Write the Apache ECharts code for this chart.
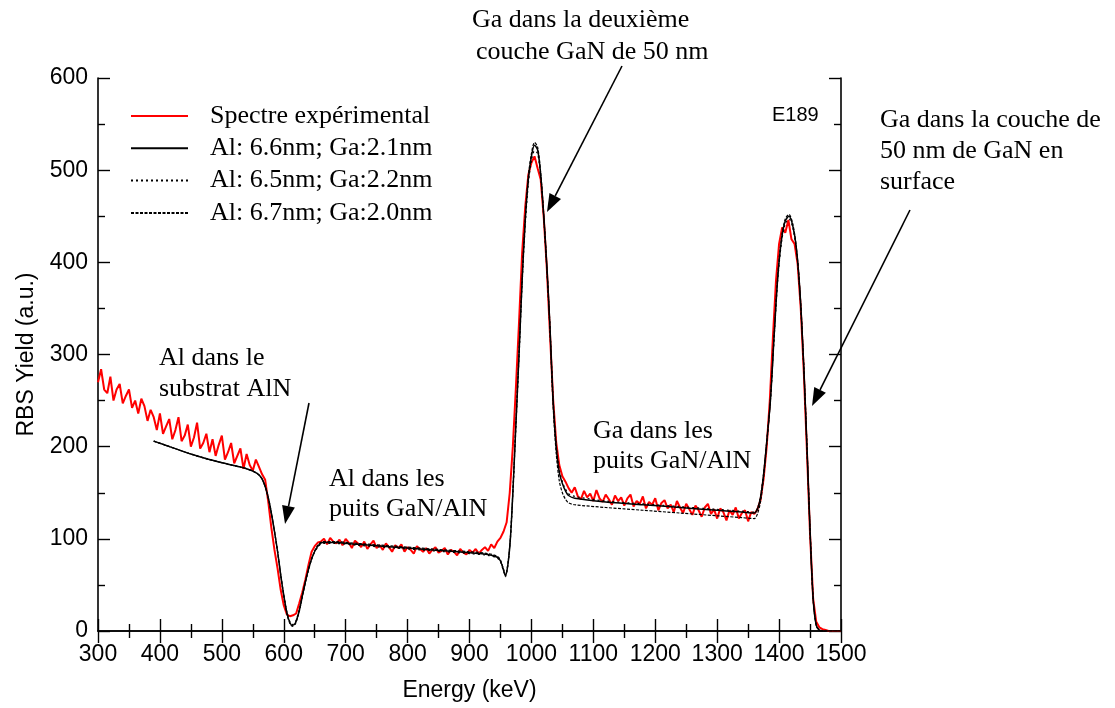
<!DOCTYPE html>
<html>
<head>
<meta charset="utf-8">
<script src="https://cdn.jsdelivr.net/npm/echarts@6/dist/echarts.min.js"></script>
<style>
html,body{margin:0;padding:0;background:#fff;}
#chart{width:1115px;height:708px;}
</style>
</head>
<body>
<div id="chart"></div>
<script>
// ---- Data ----
const legendNames = ['Spectre expérimental', 'Al: 6.6nm; Ga:2.1nm', 'Al: 6.5nm; Ga:2.2nm', 'Al: 6.7nm; Ga:2.0nm'];

const expEnergy = [
300,305,310,315,320,325,330,335,340,345,350,355,360,365,370,375,380,385,390,395,
400,405,410,415,420,425,430,435,440,445,450,455,460,465,470,475,480,485,490,495,
500,505,510,515,520,525,530,535,540,545,550,555,560,565,570,
575,580,585,590,595,600,605,610,615,620,625,630,635,640,645,650,655,
660,665,670,675,680,685,690,695,700,705,710,715,720,725,730,735,740,745,750,755,
760,765,770,775,780,785,790,795,800,805,810,815,820,825,830,835,840,845,850,855,
860,865,870,875,880,885,890,895,900,905,910,915,920,925,930,935,940,945,950,
955,960,965,970,975,980,985,990,995,1000,1005,1010,1015,1020,1025,1030,1035,1040,1045,1050,1055,1060,
1065,1070,1075,1080,1085,1090,1095,1100,1105,1110,1115,1120,1125,1130,1135,1140,1145,1150,1155,1160,
1165,1170,1175,1180,1185,1190,1195,1200,1205,1210,1215,1220,1225,1230,1235,1240,1245,1250,1255,1260,
1265,1270,1275,1280,1285,1290,1295,1300,1305,1310,1315,1320,1325,1330,1335,1340,1345,1350,1355,1360,
1365,1370,1375,1380,1385,1390,1395,1400,1405,1410,1415,1420,1425,1430,1435,1440,1445,1450,1455,1460,
1465,1470,1475,1480,1485,1490,1495,1500
];
const expYield = [
270,284,262,258,276,250,262,268,247,255,262,242,250,236,252,244,228,240,232,218,
236,214,222,230,208,218,232,206,212,224,200,210,226,198,204,214,194,208,190,202,
212,186,194,204,182,190,198,176,192,180,174,186,178,170,164,
140,112,88,68,45,28,18,16,17,19,30,42,56,72,86,92,96,
97,100,94,101,97,95,99,93,100,96,90,98,95,91,97,89,94,98,90,93,
88,95,91,86,93,90,94,86,91,88,84,92,89,86,90,84,88,91,85,87,
90,83,88,86,82,89,85,83,88,85,89,84,88,91,87,94,90,97,101,
108,118,150,200,265,335,410,460,495,508,515,502,490,448,392,322,252,205,180,168,162,155,
150,156,146,143,152,145,149,141,153,144,140,148,143,137,147,141,145,136,144,148,
135,141,138,146,133,140,137,144,131,139,142,133,137,129,141,134,128,138,132,126,
136,131,124,134,138,127,132,122,133,129,120,131,126,134,122,128,131,119,129,127,
132,142,165,200,250,318,380,420,438,432,446,425,420,398,350,280,195,105,35,10,
4,2,1,0,0,0,0,0
];

const fitEnergy = [
390,420,450,480,510,540,557,565,573,580,589,597,605,610,614,619,625,631,638,646,
654,663,680,720,780,840,900,930,945,950,955,958,962,966,970,975,980,985,990,995,
1000,1005,1010,1015,1020,1025,1030,1035,1040,1045,1050,1055,1060,1070,1120,1180,1240,1300,1340,1360,
1365,1370,1375,1380,1386,1392,1398,1404,1410,1416,1422,1428,1434,1440,1445,1450,1455,1460,1465,1470,
1500
];
const fitSolid = [
206,199,192,186,181,176,171,165,150,128,91,52,20,9,6,9,22,41,62,80,
91,96,96,94,91,88,85,83,80,76,66,60,72,100,150,225,300,380,445,490,
515,527,522,495,450,395,330,250,200,172,160,152,147,144,140,137,134,131,129,128,
132,145,170,205,250,320,385,425,445,450,440,415,365,285,200,110,35,6,1,0,
0
];
const fitDotted = [
206,199,192,186,181,176,171,165,150,128,91,52,21,10,7,10,23,42,62,80,
90,95,95,93,90,87,84,82,79,75,65,59,71,99,148,222,297,377,440,485,
510,521,518,492,448,393,330,252,203,175,162,154,149,146,141,138,135,132,130,129,
133,146,171,205,250,318,382,422,442,447,438,413,363,284,199,109,34,6,1,0,
0
];
const fitDashed = [
206,199,192,186,181,176,171,165,150,128,91,52,19,8,5,8,21,40,61,80,
92,97,97,95,92,89,86,84,81,77,67,61,73,101,151,227,302,382,448,493,
518,530,525,497,450,393,326,245,193,163,150,143,139,137,134,131,128,125,123,122,
127,140,167,203,250,321,387,427,447,452,442,416,366,286,201,111,36,6,1,0,
0
];

// ---- Helpers ----
function pairs(xs, ys){ return xs.map((x,i)=>[x, ys[i]]); }
const SERIF = '"Liberation Serif", "Times New Roman", serif';
const SANS = '"Liberation Sans", Arial, sans-serif';

function arrow(x1,y1,x2,y2){
  const dx=x2-x1, dy=y2-y1, L=Math.hypot(dx,dy), ux=dx/L, uy=dy/L;
  const hl=18, hw=6.5;
  const bx=x2-ux*hl, by=y2-uy*hl;
  return [
    {type:'line', shape:{x1:x1,y1:y1,x2:bx,y2:by}, style:{stroke:'#000', lineWidth:1.6}, silent:true},
    {type:'polygon', shape:{points:[[x2,y2],[bx-uy*hw,by+ux*hw],[bx+uy*hw,by-ux*hw]]}, style:{fill:'#000'}, silent:true}
  ];
}
function label(text, x, y, font){
  return {type:'text', silent:true, style:{text:text, x:x, y:y, font: font || ('26px ' + SERIF), fill:'#000', verticalAlign:'middle', align:'left'}};
}

const chart = echarts.init(document.getElementById('chart'), null, {renderer:'canvas'});

const axisCommon = {
  axisLine:{show:true, lineStyle:{color:'#000', width:1.6}},
  axisTick:{show:true, inside:true, length:12, lineStyle:{color:'#000', width:1.4}},
  minorTick:{show:true, splitNumber:2, length:7, lineStyle:{color:'#000', width:1.4}},
  splitLine:{show:false},
  minorSplitLine:{show:false}
};
const plainNum = v => String(v);

const option = {
  backgroundColor:'#fff',
  animation:false,
  grid:{left:98, right:274, top:78, bottom:77, containLabel:false},
  legend:{
    show:true, orient:'vertical', left:125, top:95,
    itemWidth:57, itemHeight:14, itemGap:0.3,
    data:legendNames,
    itemStyle:{opacity:0},
    textStyle:{fontFamily:SERIF, fontSize:26, color:'#000', lineHeight:32, padding:[0,0,0,17]}
  },
  xAxis:[
    Object.assign({
      type:'value', min:300, max:1500, interval:100, position:'bottom',
      name:'Energy (keV)', nameLocation:'middle', nameGap:48,
      nameTextStyle:{fontFamily:SANS, fontSize:23, color:'#000'},
      axisLabel:{show:true, margin:12, fontFamily:SANS, fontSize:23, color:'#000', formatter:plainNum}
    }, axisCommon),
    Object.assign({
      type:'value', min:300, max:1500, interval:100, position:'top',
      axisLabel:{show:false}
    }, axisCommon)
  ],
  yAxis:[
    Object.assign({
      type:'value', min:0, max:600, interval:100, position:'left',
      name:'RBS Yield (a.u.)', nameLocation:'middle', nameGap:60, nameRotate:90,
      nameTextStyle:{fontFamily:SANS, fontSize:23, color:'#000'},
      axisLabel:{show:true, margin:10, fontFamily:SANS, fontSize:23, color:'#000', formatter:plainNum}
    }, axisCommon),
    Object.assign({
      type:'value', min:0, max:600, interval:100, position:'right',
      axisLabel:{show:false}
    }, axisCommon)
  ],
  series:[
    {name:legendNames[0], type:'line', data:pairs(expEnergy, expYield), symbol:'none', showSymbol:false,
     lineStyle:{color:'#ff0000', width:2}, itemStyle:{color:'#ff0000'}, z:2},
    {name:legendNames[1], type:'line', data:pairs(fitEnergy, fitSolid), symbol:'none', showSymbol:false, smooth:0.3,
     lineStyle:{color:'#000', width:1.5}, itemStyle:{color:'#000'}, z:5},
    {name:legendNames[2], type:'line', data:pairs(fitEnergy, fitDotted), symbol:'none', showSymbol:false, smooth:0.3,
     lineStyle:{color:'#000', width:1.2, type:[2,3]}, itemStyle:{color:'#000'}, z:4},
    {name:legendNames[3], type:'line', data:pairs(fitEnergy, fitDashed), symbol:'none', showSymbol:false, smooth:0.3,
     lineStyle:{color:'#000', width:1.2, type:[3,1.5]}, itemStyle:{color:'#000'}, z:4}
  ],
  graphic:[].concat(
    [
      label('Al dans le', 159, 358),
      label('substrat AlN', 159, 389),
      label('Al dans les', 329, 479),
      label('puits GaN/AlN', 329, 509),
      label('Ga dans les', 593, 431),
      label('puits GaN/AlN', 593, 461),
      label('Ga dans la deuxième', 472, 20),
      label('couche GaN de 50 nm', 476, 52),
      label('Ga dans la couche de', 880, 120),
      label('50 nm de GaN en', 880, 151),
      label('surface', 880, 182),
      label('E189', 772, 115, '20px ' + SANS)
    ],
    arrow(309, 403, 285, 524),
    arrow(622, 66, 547, 212),
    arrow(910, 210, 812, 406)
  )
};
chart.setOption(option);
</script>
</body>
</html>
